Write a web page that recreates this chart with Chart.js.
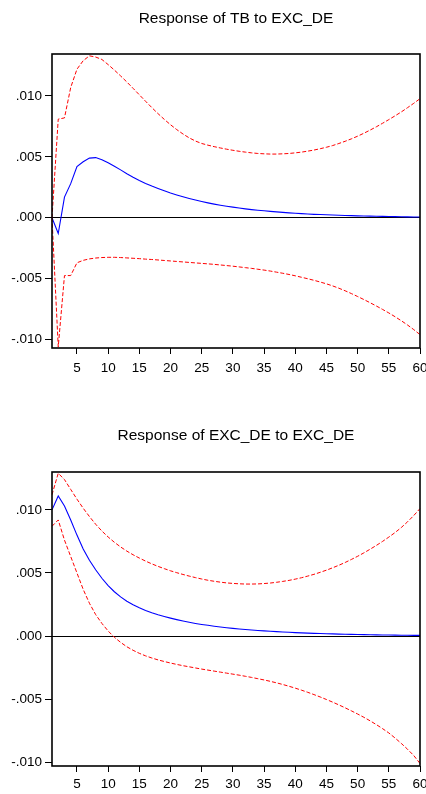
<!DOCTYPE html>
<html>
<head>
<meta charset="utf-8">
<script src="https://cdn.jsdelivr.net/npm/chart.js@4.4.1/dist/chart.umd.min.js"></script>
<style>
  html, body { margin: 0; padding: 0; background: #fff; }
  body { width: 426px; height: 794px; position: relative; overflow: hidden; }
  canvas { position: absolute; left: 0; }
</style>
</head>
<body>
<canvas id="c1" width="426" height="400" style="top:0px"></canvas>
<canvas id="c2" width="426" height="377" style="top:417px"></canvas>
<script>
// ---- Data ----
const periods = [1,2,3,4,5,6,7,8,9,10,11,12,13,14,15,16,17,18,19,20,21,22,23,24,25,26,27,28,29,30,
  31,32,33,34,35,36,37,38,39,40,41,42,43,44,45,46,47,48,49,50,51,52,53,54,55,56,57,58,59,60];
const xTickLabels = [5,10,15,20,25,30,35,40,45,50,55,60];
const yTickValues = [-0.010, -0.005, 0.000, 0.005, 0.010];

const titleTB = "Response of TB to EXC_DE";
const titleEXC = "Response of EXC_DE to EXC_DE";

// Response of TB to EXC_DE
const tbResponse = [0.0000,-0.0013,0.0017,0.0028,0.0042,0.0046,0.0049,0.00494,0.00477,0.00452,
  0.00423,0.00393,0.00362,0.00333,0.00306,0.00282,0.00260,0.00240,0.00221,0.00203,
  0.00187,0.00172,0.00158,0.00145,0.00133,0.00122,0.00112,0.00103,0.00095,0.00087,
  0.00080,0.00073,0.00067,0.00062,0.00057,0.00052,0.00048,0.00044,0.00040,0.00037,
  0.00034,0.00031,0.00028,0.00026,0.00024,0.00022,0.00020,0.00018,0.00017,0.00015,
  0.00014,0.00013,0.00012,0.00011,0.00010,0.00009,0.00008,0.00007,0.000065,0.00006];
const tbUpper = [0.0000,0.0081,0.0082,0.0107,0.0122,0.0129,0.0133,0.0132,0.01300,0.01258,
  0.01213,0.01165,0.01115,0.01063,0.01010,0.00957,0.00905,0.00855,0.00808,0.00764,
  0.00724,0.00688,0.00656,0.00630,0.00610,0.00596,0.00584,0.00573,0.00563,0.00554,
  0.00546,0.00539,0.00533,0.00528,0.00525,0.00523,0.00523,0.00525,0.00528,0.00533,
  0.00539,0.00547,0.00556,0.00567,0.00579,0.00593,0.00610,0.00628,0.00648,0.00670,
  0.00694,0.00720,0.00747,0.00776,0.00806,0.00837,0.00869,0.00904,0.00940,0.00978];
const tbLower = [0.0000,-0.0106,-0.00475,-0.00475,-0.0037,-0.0035,-0.00338,-0.00331,-0.00327,-0.00325,
  -0.00325,-0.00327,-0.00330,-0.00333,-0.00336,-0.00340,-0.00343,-0.00347,-0.00351,-0.00355,
  -0.00359,-0.00363,-0.00367,-0.00371,-0.00375,-0.00379,-0.00383,-0.00388,-0.00393,-0.00398,
  -0.00404,-0.00410,-0.00416,-0.00423,-0.00430,-0.00438,-0.00447,-0.00456,-0.00466,-0.00477,
  -0.00489,-0.00501,-0.00514,-0.00528,-0.00543,-0.00560,-0.00579,-0.00600,-0.00623,-0.00647,
  -0.00672,-0.00698,-0.00725,-0.00753,-0.00782,-0.00813,-0.00846,-0.00881,-0.00919,-0.00960];

// Response of EXC_DE to EXC_DE
const excResponse = [0.0100,0.0111,0.0103,0.0092,0.0080,0.0069,0.0060,0.00525,0.00458,0.00400,
  0.00351,0.00310,0.00276,0.00248,0.00224,0.00203,0.00185,0.00169,0.00155,0.00142,
  0.00130,0.00119,0.00109,0.00100,0.00092,0.00085,0.00078,0.00072,0.00066,0.00061,
  0.00056,0.00052,0.00048,0.00044,0.00041,0.00038,0.00035,0.00032,0.00030,0.00027,
  0.00025,0.00023,0.00021,0.00020,0.00018,0.00017,0.00015,0.00014,0.00013,0.00012,
  0.00011,0.00010,0.00009,0.000085,0.00008,0.00007,0.000065,0.00006,0.000055,0.00005];
const excUpper = [0.0112,0.0129,0.01240,0.01162,0.01085,0.01013,0.00947,0.00886,0.00832,0.00785,
  0.00743,0.00706,0.00673,0.00644,0.00618,0.00594,0.00572,0.00552,0.00534,0.00517,
  0.00502,0.00488,0.00475,0.00463,0.00452,0.00442,0.00434,0.00427,0.00421,0.00417,
  0.00414,0.00412,0.00412,0.00413,0.00416,0.00420,0.00426,0.00433,0.00441,0.00451,
  0.00462,0.00475,0.00489,0.00505,0.00522,0.00541,0.00561,0.00583,0.00607,0.00632,
  0.00659,0.00688,0.00718,0.00750,0.00784,0.00820,0.00860,0.00905,0.00955,0.01010];
const excLower = [0.0087,0.0092,0.0076,0.0063,0.0050,0.0037,0.0026,0.0017,0.0010,0.0004,
  -0.0001,-0.0005,-0.00085,-0.00113,-0.00137,-0.00157,-0.00174,-0.00189,-0.00202,-0.00214,
  -0.00225,-0.00235,-0.00244,-0.00253,-0.00262,-0.00270,-0.00278,-0.00286,-0.00294,-0.00302,
  -0.00310,-0.00319,-0.00328,-0.00338,-0.00348,-0.00359,-0.00371,-0.00384,-0.00398,-0.00413,
  -0.00429,-0.00446,-0.00464,-0.00483,-0.00503,-0.00524,-0.00546,-0.00569,-0.00593,-0.00618,
  -0.00644,-0.00672,-0.00702,-0.00734,-0.00768,-0.00808,-0.00851,-0.00897,-0.00947,-0.01010];

// ---- Rendering ----
const FONT = "'Liberation Sans Narrow', 'Liberation Sans', Arial, sans-serif";
Chart.defaults.font.family = FONT;
Chart.defaults.color = '#000';

const framePlugin = {
  id: 'frame',
  afterDatasetsDraw(chart) {
    const a = chart.chartArea, ctx = chart.ctx;
    ctx.save();
    ctx.strokeStyle = '#000';
    ctx.lineWidth = 1.6;
    ctx.strokeRect(a.left, a.top, a.right - a.left, a.bottom - a.top);
    ctx.restore();
  }
};

function fmtY(v) {
  return v.toFixed(3).replace('0.', '.');
}

function makeChart(id, title, resp, up, lo, yMin, yMax, titlePadBottom, xAxisHeight, xPad) {
  const redDash = { borderColor: '#ff0000', borderWidth: 1, borderDash: [4, 2], pointRadius: 0,
    tension: 0, fill: false };
  return new Chart(document.getElementById(id), {
    type: 'line',
    data: {
      labels: periods,
      datasets: [
        Object.assign({ label: 'upper', data: up }, redDash),
        Object.assign({ label: 'lower', data: lo }, redDash),
        { label: 'response', data: resp, borderColor: '#0000ff', borderWidth: 1.1, pointRadius: 0,
          tension: 0, fill: false }
      ]
    },
    options: {
      responsive: false,
      animation: false,
      devicePixelRatio: 1,
      layout: { padding: { left: 0, right: 6, top: 0, bottom: 0 } },
      plugins: {
        legend: { display: false },
        tooltip: { enabled: false },
        title: {
          display: true, text: title, fullSize: false,
          font: { size: 15.5, weight: 'normal', family: FONT, lineHeight: 1.2 },
          color: '#000',
          padding: { top: 9, bottom: titlePadBottom }
        }
      },
      scales: {
        x: {
          type: 'category',
          offset: false,
          border: { display: false },
          grid: {
            drawOnChartArea: false, drawTicks: true, tickLength: 6,
            tickColor: (ctx) => (ctx.tick && xTickLabels.includes(periods[ctx.index]) ? '#000' : 'rgba(0,0,0,0)'),
            color: 'rgba(0,0,0,0)'
          },
          ticks: {
            autoSkip: false, maxRotation: 0, minRotation: 0, padding: xPad,
            font: { size: 13.5, family: FONT },
            color: '#000',
            callback: function (val, idx) {
              const p = periods[idx];
              return xTickLabels.includes(p) ? String(p) : '';
            }
          },
          afterFit: (s) => { s.height = xAxisHeight; s.paddingLeft = 0; s.paddingRight = 0; }
        },
        y: {
          type: 'linear',
          min: yMin, max: yMax,
          border: { display: false },
          afterBuildTicks: (s) => { s.ticks = yTickValues.map(v => ({ value: v })); },
          grid: {
            drawOnChartArea: true, drawTicks: true, tickLength: 7,
            color: (ctx) => (ctx.tick && Math.abs(ctx.tick.value) < 1e-12 ? '#000' : 'rgba(0,0,0,0)'),
            lineWidth: 1,
            tickColor: '#000'
          },
          ticks: {
            padding: 3,
            font: { size: 13.5, family: FONT },
            color: '#000',
            callback: (v) => fmtY(v)
          },
          afterFit: (s) => { s.width = 52; s.paddingTop = 0; s.paddingBottom = 0; }
        }
      }
    },
    plugins: [framePlugin]
  });
}

makeChart('c1', titleTB, tbResponse, tbUpper, tbLower, -0.0107, 0.01345, 26.4, 52, 6);
makeChart('c2', titleEXC, excResponse, excUpper, excLower, -0.0103, 0.0130, 27.4, 28, 4);
</script>
</body>
</html>
